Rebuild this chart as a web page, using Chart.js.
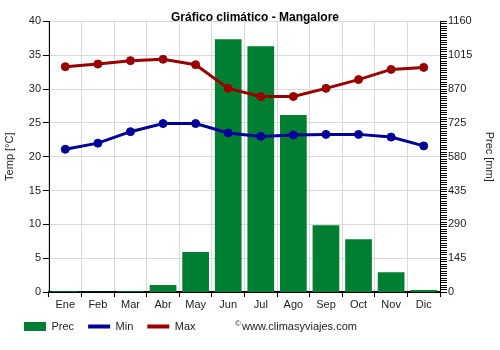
<!DOCTYPE html>
<html>
<head>
<meta charset="utf-8">
<script src="https://cdn.jsdelivr.net/npm/chart.js@4.4.1/dist/chart.umd.min.js"></script>
<style>
  html, body { margin: 0; padding: 0; background: #fff; }
  #wrap { width: 500px; height: 350px; }
</style>
</head>
<body>
<div id="wrap"><canvas id="climaChart" width="500" height="350"></canvas></div>
<script>
// --- Datos ---
const meses = ['Ene', 'Feb', 'Mar', 'Abr', 'May', 'Jun', 'Jul', 'Ago', 'Sep', 'Oct', 'Nov', 'Dic'];
const prec = [3, 1, 3, 30, 171, 1083, 1053, 759, 286, 226, 85, 9];          // mm
const tMin = [21.1, 22.0, 23.7, 24.9, 24.9, 23.5, 23.0, 23.2, 23.3, 23.3, 22.9, 21.6];
const tMax = [33.3, 33.7, 34.2, 34.4, 33.6, 30.1, 28.9, 28.9, 30.1, 31.4, 32.9, 33.2];
const escalaTemp = [0, 40, 5];      // min, max, paso
const escalaPrec = [0, 1160, 145];

Chart.defaults.font.family = '"Liberation Sans", Arial, sans-serif';
Chart.defaults.font.size = 11;
Chart.defaults.color = '#222';

const colPrec = '#007f33';
const colMin = '#000099';
const colMax = '#990000';
const gris = '#d9d9d9';

// texto del sitio al lado de la leyenda
const firma = {
  id: 'firma',
  afterDraw(chart) {
    const c = chart.ctx;
    c.save();
    c.fillStyle = '#222';
    c.textBaseline = 'middle';
    c.font = '8px "Liberation Sans", Arial, sans-serif';
    c.fillText('©', 235, 324);
    c.font = '11px "Liberation Sans", Arial, sans-serif';
    c.fillText('www.climasyviajes.com', 242, 327);
    c.restore();
  }
};

// la leyenda queda un poco más arriba, pegada a los meses
const subirLeyenda = {
  id: 'subirLeyenda',
  afterLayout(chart) {
    const l = chart.legend;
    if (!l) return;
    l.top -= 5;
    l.bottom -= 5;
  }
};

const ctx = document.getElementById('climaChart').getContext('2d');
new Chart(ctx, {
  data: {
    labels: meses,
    datasets: [
      {type: 'bar', label: 'Prec', data: prec, backgroundColor: colPrec, yAxisID: 'y2',
       barPercentage: 0.82, categoryPercentage: 1, order: 1},
      {type: 'line', label: 'Min', data: tMin, borderColor: colMin, backgroundColor: colMin,
       pointBackgroundColor: colMin, borderWidth: 3, pointRadius: 4, pointBorderWidth: 1,
       tension: 0, yAxisID: 'y', order: 0},
      {type: 'line', label: 'Max', data: tMax, borderColor: colMax, backgroundColor: colMax,
       pointBackgroundColor: colMax, borderWidth: 3, pointRadius: 4, pointBorderWidth: 1,
       tension: 0, yAxisID: 'y', order: 0}
    ]
  },
  options: {
    responsive: false,
    animation: false,
    layout: {padding: {left: 10, right: 0, top: 0, bottom: 3}},
    scales: {
      x: {
        offset: true,
        grid: {color: gris, tickColor: '#000', tickLength: 5, offset: true},
        border: {color: '#000', width: 2},
        ticks: {padding: 1, color: '#222'},
        afterFit: s => { s.height = 20; }
      },
      y: {
        position: 'left',
        min: escalaTemp[0], max: escalaTemp[1],
        ticks: {stepSize: escalaTemp[2], padding: 2, color: '#222'},
        grid: {color: gris, tickColor: '#000', tickLength: 6},
        border: {color: '#000'},
        title: {display: true, text: 'Temp [°C]', color: '#222', padding: {top: -7, bottom: 0}},
        afterFit: s => { s.width = 39; }
      },
      // marcas pequeñas cada 10 mm pegadas al eje derecho
      y2m: {
        position: 'right', weight: 0,
        min: escalaPrec[0], max: escalaPrec[1],
        ticks: {display: false, stepSize: 10},
        grid: {drawOnChartArea: false, tickColor: '#000', tickLength: 7},
        border: {color: '#000'},
        afterFit: s => { s.width = 7; }
      },
      y2: {
        position: 'right', weight: 1,
        min: escalaPrec[0], max: escalaPrec[1],
        ticks: {stepSize: escalaPrec[2], padding: 1, color: '#222', callback: v => String(v)},
        grid: {display: false, drawTicks: false},
        border: {display: false},
        title: {display: true, text: 'Prec [mm]', color: '#222', padding: {top: 4, bottom: 4}},
        afterFit: s => { s.width = 53; }
      }
    },
    plugins: {
      title: {
        display: true,
        text: 'Gráfico climático - Mangalore',
        color: '#000',
        font: {size: 12, weight: 'bold'},
        padding: {top: 10, bottom: -3}
      },
      legend: {
        position: 'bottom',
        align: 'start',
        labels: {
          usePointStyle: true,
          pointStyleWidth: 22,
          boxHeight: 9,
          padding: 14,
          color: '#222',
          sort: (a, b) => a.datasetIndex - b.datasetIndex,
          generateLabels: chart => {
            const items = Chart.defaults.plugins.legend.labels.generateLabels(chart);
            items.forEach(it => {
              if (it.datasetIndex === 0) {
                it.pointStyle = 'rect';
                it.lineWidth = 0;
              } else {
                it.pointStyle = 'line';
                it.lineWidth = 4;
              }
            });
            return items;
          }
        }
      },
      tooltip: {enabled: false}
    }
  },
  plugins: [firma, subirLeyenda]
});
</script>
</body>
</html>
